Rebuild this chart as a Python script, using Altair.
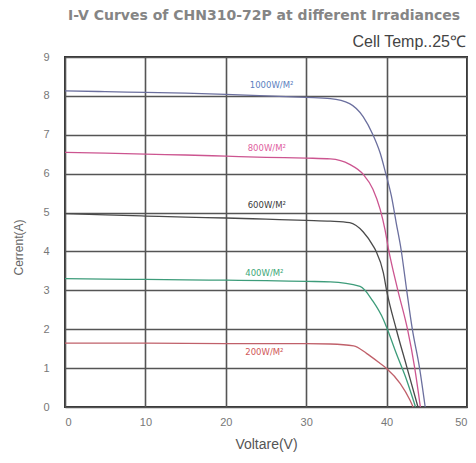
import altair as alt
import pandas as pd

series = ["1000W/M²", "800W/M²", "600W/M²", "400W/M²", "200W/M²"]

v_1000 = [0, 5, 10, 15, 20, 25, 30, 33, 35.4, 37.1, 38.3, 39.2, 39.9, 40.6, 41.2, 41.8, 42.5, 43.2, 44.1, 44.8]
i_1000 = [8.13, 8.11, 8.09, 8.07, 8.04, 8.0, 7.96, 7.93, 7.8, 7.46, 7.0, 6.53, 6.0, 5.42, 4.73, 4.05, 3.0, 2.0, 1.0, 0.0]

v_800 = [0, 5, 10, 15, 20, 25, 30, 33, 35.4, 37.1, 38.3, 39.2, 39.8, 40.2, 41.4, 42.6, 43.5, 44.2]
i_800 = [6.55, 6.53, 6.5, 6.48, 6.45, 6.42, 6.4, 6.38, 6.24, 5.98, 5.6, 5.08, 4.56, 4.1, 3.0, 2.0, 1.0, 0.0]

v_600 = [0, 5, 10, 15, 20, 25, 30, 33, 35.4, 37.1, 38.3, 38.7, 39.6, 40.0, 41.2, 42.5, 43.9]
i_600 = [4.97, 4.94, 4.91, 4.88, 4.86, 4.83, 4.8, 4.78, 4.74, 4.5, 4.15, 4.0, 3.45, 3.0, 2.0, 1.04, 0.0]

v_400 = [0, 5, 10, 15, 20, 25, 30, 33, 36.7, 38.3, 39.6, 40.0, 41.2, 42.5, 43.6]
i_400 = [3.3, 3.29, 3.28, 3.27, 3.26, 3.25, 3.23, 3.22, 3.1, 2.72, 2.25, 2.05, 1.38, 0.69, 0.0]

v_200 = [0, 10, 20, 30, 33, 35.9, 37.5, 39.2, 40.0, 41.7, 42.9, 43.3]
i_200 = [1.64, 1.64, 1.63, 1.63, 1.62, 1.57, 1.38, 1.12, 0.99, 0.6, 0.18, 0.0]

label_v = [25.7, 25.1, 25.1, 24.8, 24.8]
label_i = [8.29, 6.66, 5.2, 3.45, 1.41]

line_colors = ["#6b6f9e", "#cc5590", "#4a4a4a", "#3d9c7a", "#c0606a"]
label_colors = ["#5c7fc0", "#e060a0", "#3a3a3a", "#40a878", "#d05858"]

x_ticks = [0, 10, 20, 30, 40, 50]
y_ticks = [0, 1, 2, 3, 4, 5, 6, 7, 8, 9]

rows = []
for name, vs, is_ in zip(series, [v_1000, v_800, v_600, v_400, v_200],
                         [i_1000, i_800, i_600, i_400, i_200]):
    for k, (v, i) in enumerate(zip(vs, is_)):
        rows.append({"series": name, "V": v, "I": i, "order": k})
df = pd.DataFrame(rows)

labels = pd.DataFrame({"series": series, "V": label_v, "I": label_i, "c": label_colors})

xs = alt.X("V:Q", scale=alt.Scale(domain=[0, 50], nice=False),
           axis=alt.Axis(values=x_ticks, title="Voltare(V)", grid=True, gridColor="#555",
                         gridWidth=1.6, domain=False, ticks=False, labelPadding=9,
                         labelFontSize=11, labelColor="#777", titleFontSize=14,
                         titleColor="#555", titleFontWeight="normal", titlePadding=10,
                         labelFont="Liberation Sans", titleFont="Liberation Sans"))
ys = alt.Y("I:Q", scale=alt.Scale(domain=[0, 9], nice=False),
           axis=alt.Axis(values=y_ticks, title="Cerrent(A)", grid=True, gridColor="#555",
                         gridWidth=1.6, domain=False, ticks=False, labelPadding=16,
                         labelFontSize=11, labelColor="#777", titleFontSize=12,
                         titleColor="#666", titleFontWeight="normal", titlePadding=17,
                         titleY=190,
                         labelFont="Liberation Sans", titleFont="Liberation Sans"))

lines = alt.Chart(df).mark_line(strokeWidth=1.3, interpolate="monotone").encode(
    x=xs, y=ys,
    color=alt.Color("series:N", scale=alt.Scale(domain=series, range=line_colors), legend=None),
    order="order:Q",
    detail="series:N",
)

texts = alt.Chart(labels).mark_text(fontSize=8.5, font="DejaVu Sans").encode(
    x=xs, y=ys, text="series:N",
    color=alt.Color("c:N", scale=None),
)

title_df = pd.DataFrame({"t": ["I-V Curves of CHN310-72P at different Irradiances"]})
title = alt.Chart(title_df).mark_text(fontSize=14, fontWeight="bold", color="#858585",
                                      font="DejaVu Sans").encode(
    x=alt.value(199), y=alt.value(-41), text="t:N")
sub_df = pd.DataFrame({"t": ["Cell Temp..25℃"]})
sub = alt.Chart(sub_df).mark_text(fontSize=16, color="#444", align="right",
                                  font="Liberation Sans").encode(
    x=alt.value(401), y=alt.value(-15), text="t:N")

chart = alt.layer(lines, texts, title, sub).properties(
    width=402, height=350,
    autosize=alt.AutoSizeParams(type="none"),
    padding={"left": 57, "top": 49, "right": 1, "bottom": 47},
    background="white",
).configure_view(stroke="#333", strokeWidth=2)

chart.save("out.html", embed_options={"renderer": "svg", "actions": False})
